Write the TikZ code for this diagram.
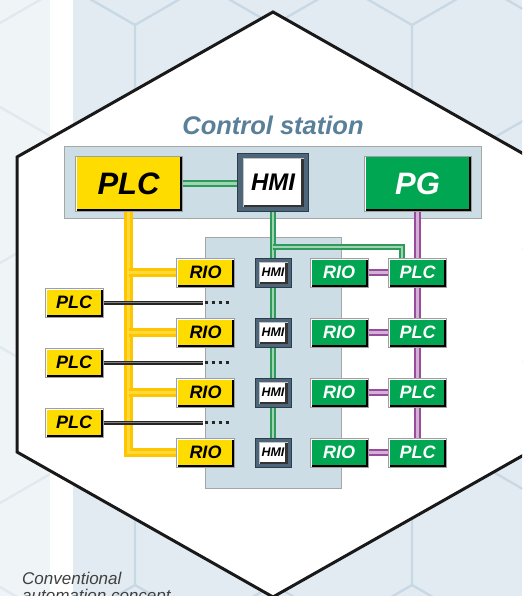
\documentclass[tikz,border=0pt]{standalone}
\usepackage{fontspec}
\setmainfont{Liberation Sans}
\usetikzlibrary{positioning}

\definecolor{bgmain}{HTML}{E2EBF1}
\definecolor{hexline}{HTML}{C8D8E4}
\definecolor{panelblue}{HTML}{CDDDE5}
\definecolor{plcyellow}{HTML}{FFDC00}
\definecolor{pggreen}{HTML}{00A651}
\definecolor{hmislate}{HTML}{4D6679}
\definecolor{titleblue}{HTML}{5A7F99}
\definecolor{busyellow}{HTML}{FFC600}
\definecolor{busyellowhi}{HTML}{FFD93A}
\definecolor{busgreen}{HTML}{2E9B5C}
\definecolor{busgreenhi}{HTML}{9ED4B0}
\definecolor{buspurple}{HTML}{974C9C}
\definecolor{buspurplehi}{HTML}{D3B0D6}

\pgfdeclarelayer{bg}
\pgfdeclarelayer{links}
\pgfsetlayers{bg,links,main}

\tikzset{
    box/.style 2 args={draw=gray!75, line width=0.6pt, fill=#1, inner sep=0pt,
        path picture={
            \path (path picture bounding box.south west) coordinate (bsw)
                  (path picture bounding box.north east) coordinate (bne);
            \fill[white] (bsw) rectangle (bne);
            \fill[black] ([xshift=1.5pt]bsw) rectangle ([yshift=-1.5pt]bne);
            \fill[#1] ([xshift=1.5pt,yshift=#2]bsw) rectangle ([xshift=-#2,yshift=-1.5pt]bne);
        }},
    ybox/.style={box={plcyellow}{2.5pt}},
    gbox/.style={box={pggreen}{2.5pt}, text=white},
    hmibox/.style={draw=hmislate!60!black, line width=0.6pt, fill=hmislate, inner sep=0pt,
        path picture={
            \path (path picture bounding box.south west) coordinate (bsw)
                  (path picture bounding box.north east) coordinate (bne);
            \fill[gray!45] ([shift={(#1,#1)}]bsw) rectangle ([shift={(-#1,-#1)}]bne);
            \fill[black!80] ([shift={(#1+1pt,#1)}]bsw) rectangle ([shift={(-#1,-#1-1pt)}]bne);
            \fill[white] ([shift={(#1+1pt,#1+1.5pt)}]bsw) rectangle ([shift={(-#1-2.5pt,-#1-1pt)}]bne);
        }},
    bigbox/.style={minimum width=107pt, minimum height=55pt,
        font=\bfseries\itshape\fontsize{31}{31}\selectfont},
    smallbox/.style={minimum width=58pt, minimum height=29pt,
        font=\bfseries\itshape\fontsize{18}{18}\selectfont},
    smallhmi/.style={hmibox=3.5pt, minimum width=36pt, minimum height=29pt,
        font=\bfseries\itshape\fontsize{12.5}{12.5}\selectfont},
    panel/.style={draw=gray!70, line width=0.6pt, fill=panelblue, inner sep=0pt},
    hexgrid/.style={draw=hexline, line width=2pt},
    ybus/.style={draw=busyellow, line width=3pt, double=busyellowhi, double distance=3pt},
    gbus/.style={draw=busgreen, line width=2.2pt, double=busgreenhi, double distance=2.3pt},
    pbus/.style={draw=buspurple, line width=2.2pt, double=buspurplehi, double distance=2.3pt},
    plink/.style={draw=black!85, line width=1.5pt, double=black!50, double distance=1pt},
    pdots/.style={draw=black!85, line width=3pt, dash pattern=on 3pt off 4pt}
}

\begin{document}
\begin{tikzpicture}[x=1pt, y=-1pt, on grid]
    \useasboundingbox (0,0) rectangle (522,596);

    % control station
    \node[ybox, bigbox] (plc) at (128.5,183.5) {PLC};
    \node[hmibox=5pt, minimum width=71pt, minimum height=58pt,
          font=\bfseries\itshape\fontsize{24}{24}\selectfont] (hmi) at (273,182.5) {HMI};
    \node[gbox, bigbox] (pg) at (417.5,183.5) {PG};
    \node[font=\bfseries\itshape\fontsize{25.5}{25.5}\selectfont, text=titleblue,
          anchor=base] (title) at (273,135) {Control station};

    % field level
    \node[ybox, smallbox] (rio1) at (205.5,272.5) {RIO};
    \node[smallhmi] (hmi1) [right=67.5pt of rio1] {HMI};
    \node[gbox, smallbox] (grio1) [right=66pt of hmi1] {RIO};
    \node[gbox, smallbox] (gplc1) [right=78.5pt of grio1] {PLC};

    \node[ybox, smallbox] (rio2) [below=60pt of rio1] {RIO};
    \node[smallhmi] (hmi2) [right=67.5pt of rio2] {HMI};
    \node[gbox, smallbox] (grio2) [right=66pt of hmi2] {RIO};
    \node[gbox, smallbox] (gplc2) [right=78.5pt of grio2] {PLC};

    \node[ybox, smallbox] (rio3) [below=60pt of rio2] {RIO};
    \node[smallhmi] (hmi3) [right=67.5pt of rio3] {HMI};
    \node[gbox, smallbox] (grio3) [right=66pt of hmi3] {RIO};
    \node[gbox, smallbox] (gplc3) [right=78.5pt of grio3] {PLC};

    \node[ybox, smallbox] (rio4) [below=60pt of rio3] {RIO};
    \node[smallhmi] (hmi4) [right=67.5pt of rio4] {HMI};
    \node[gbox, smallbox] (grio4) [right=66pt of hmi4] {RIO};
    \node[gbox, smallbox] (gplc4) [right=78.5pt of grio4] {PLC};

    \node[ybox, smallbox] (lplc1) at (74,302.5) {PLC};
    \node[ybox, smallbox] (lplc2) [below=60pt of lplc1] {PLC};
    \node[ybox, smallbox] (lplc3) [below=60pt of lplc2] {PLC};

    \begin{pgfonlayer}{bg}
        \clip (0,0) rectangle (522,596);
        \fill[bgmain] (0,0) rectangle (522,596);
        \foreach \j in {0,...,6}
            \foreach \i in {-2,...,4}{
                \pgfmathsetmacro\cx{135+138.5*\i+69.25*mod(\j,2)}
                \pgfmathsetmacro\cy{-55+120*\j}
                \draw[hexgrid] (\cx,\cy-80) -- ++(69.28,40) -- ++(0,80) -- ++(-69.28,40)
                    -- ++(-69.28,-40) -- ++(0,-80) -- cycle;
            }
        \fill[white, opacity=0.45] (0,0) rectangle (50,596);
        \fill[white] (50,0) rectangle (73,596);
        \filldraw[fill=white, draw=black!90, line width=3pt] (273,12) -- (529,157) -- (529,452)
            -- (273,597) -- (17,452) -- (17,157) -- cycle;
        \node[panel, minimum width=417pt, minimum height=72pt] (station) at (273,182.5) {};
        \node[panel, minimum width=136pt, minimum height=251pt] (field) at (273,362.8) {};
        \node[anchor=north west, inner sep=0pt, align=left, text=black!75,
              font=\itshape\fontsize{17}{17}\selectfont] (caption) at (22,572)
              {Conventional\\automation concept};
    \end{pgfonlayer}

    \begin{pgfonlayer}{links}
        % yellow bus
        \draw[ybus] (plc.south) |- (rio4.west);
        \draw[ybus] (plc.south |- rio1.west) -- (rio1.west);
        \draw[ybus] (plc.south |- rio2.west) -- (rio2.west);
        \draw[ybus] (plc.south |- rio3.west) -- (rio3.west);
        % green bus
        \draw[gbus] (plc.east) -- (plc.east -| hmi.west);
        \draw[gbus] (hmi.south) -- (hmi4);
        \coordinate (gsplit) at (273,247);
        \draw[gbus] (gsplit) -| ([xshift=-15.5pt]gplc1.north);
        % purple bus
        \draw[pbus] (pg.south) -- (gplc4);
        \draw[pbus] (grio1) -- (gplc1);
        \draw[pbus] (grio2) -- (gplc2);
        \draw[pbus] (grio3) -- (gplc3);
        \draw[pbus] (grio4) -- (gplc4);
        % point to point links
        \draw[plink] (lplc1.east) -- ([xshift=-2pt]lplc1.east -| field.west) coordinate (dot1);
        \draw[pdots] ([xshift=2pt]dot1) -- ([xshift=26pt]dot1);
        \draw[plink] (lplc2.east) -- ([xshift=-2pt]lplc2.east -| field.west) coordinate (dot2);
        \draw[pdots] ([xshift=2pt]dot2) -- ([xshift=26pt]dot2);
        \draw[plink] (lplc3.east) -- ([xshift=-2pt]lplc3.east -| field.west) coordinate (dot3);
        \draw[pdots] ([xshift=2pt]dot3) -- ([xshift=26pt]dot3);
    \end{pgfonlayer}
\end{tikzpicture}
\end{document}
